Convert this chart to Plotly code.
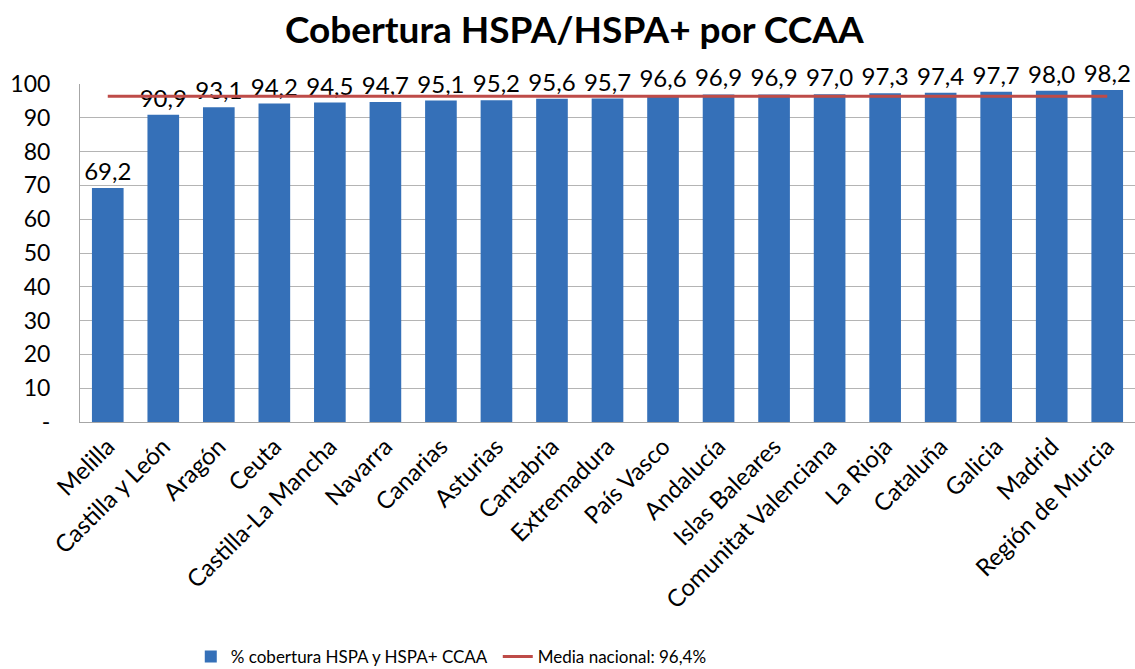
import plotly.graph_objects as go

categories = ["Melilla", "Castilla y León", "Aragón", "Ceuta", "Castilla-La Mancha",
              "Navarra", "Canarias", "Asturias", "Cantabria", "Extremadura",
              "País Vasco", "Andalucía", "Islas Baleares", "Comunitat Valenciana",
              "La Rioja", "Cataluña", "Galicia", "Madrid", "Región de Murcia"]
coverage = [69.2, 90.9, 93.1, 94.2, 94.5, 94.7, 95.1, 95.2, 95.6, 95.7,
            96.6, 96.9, 96.9, 97.0, 97.3, 97.4, 97.7, 98.0, 98.2]
national_mean = 96.4
y_tickvals = [0, 10, 20, 30, 40, 50, 60, 70, 80, 90, 100]
y_ticktext = ["-", "10", "20", "30", "40", "50", "60", "70", "80", "90", "100"]

FONT = "Lato, Open Sans, sans-serif"

fig = go.Figure()
fig.add_trace(go.Bar(
    x=categories, y=coverage,
    name="% cobertura HSPA y HSPA+ CCAA",
    marker=dict(color="#3570B8", line=dict(width=0)),
    text=[f"{v:.1f}".replace(".", ",") for v in coverage],
    textposition="outside",
    constraintext="none",
    textfont=dict(size=24, color="#000000", family=FONT),
    cliponaxis=False,
))
fig.add_trace(go.Scatter(
    x=categories, y=[national_mean] * len(categories),
    mode="lines",
    name="Media nacional: 96,4%",
    line=dict(color="#BE4B48", width=3),
    cliponaxis=False,
))

fig.update_layout(
    width=1135, height=669,
    paper_bgcolor="white", plot_bgcolor="white",
    margin=dict(l=80, r=0, t=84, b=247, autoexpand=False),
    bargap=0.43,
    title=dict(text="<b>Cobertura HSPA/HSPA+ por CCAA</b>", x=0.506, xanchor="center",
               y=0.955, yanchor="middle",
               font=dict(size=37, family=FONT, color="#000000")),
    font=dict(family=FONT, size=20, color="#000000"),
    showlegend=True,
    legend=dict(orientation="h", x=0.105, xanchor="left",
                y=-0.695, yanchor="middle", font=dict(size=17, family=FONT),
                entrywidth=262, itemwidth=30),
)
fig.update_xaxes(
    tickangle=-45, tickfont=dict(size=24, family=FONT),
    showline=True, linecolor="#A6A6A6", linewidth=1,
    ticks="", showgrid=False, automargin=False,
)
fig.update_yaxes(
    range=[0, 100], tickvals=y_tickvals, ticktext=y_ticktext,
    tickfont=dict(size=23, family=FONT),
    showgrid=True, gridcolor="#B4B4B4", gridwidth=1,
    showline=True, linecolor="#A6A6A6", linewidth=1,
    ticks="", ticklen=0, zeroline=False, automargin=False,
    ticklabelstandoff=24,
)

fig.write_html("out.html", config={"displayModeBar": False},
               post_script="document.body.style.margin='0';")
